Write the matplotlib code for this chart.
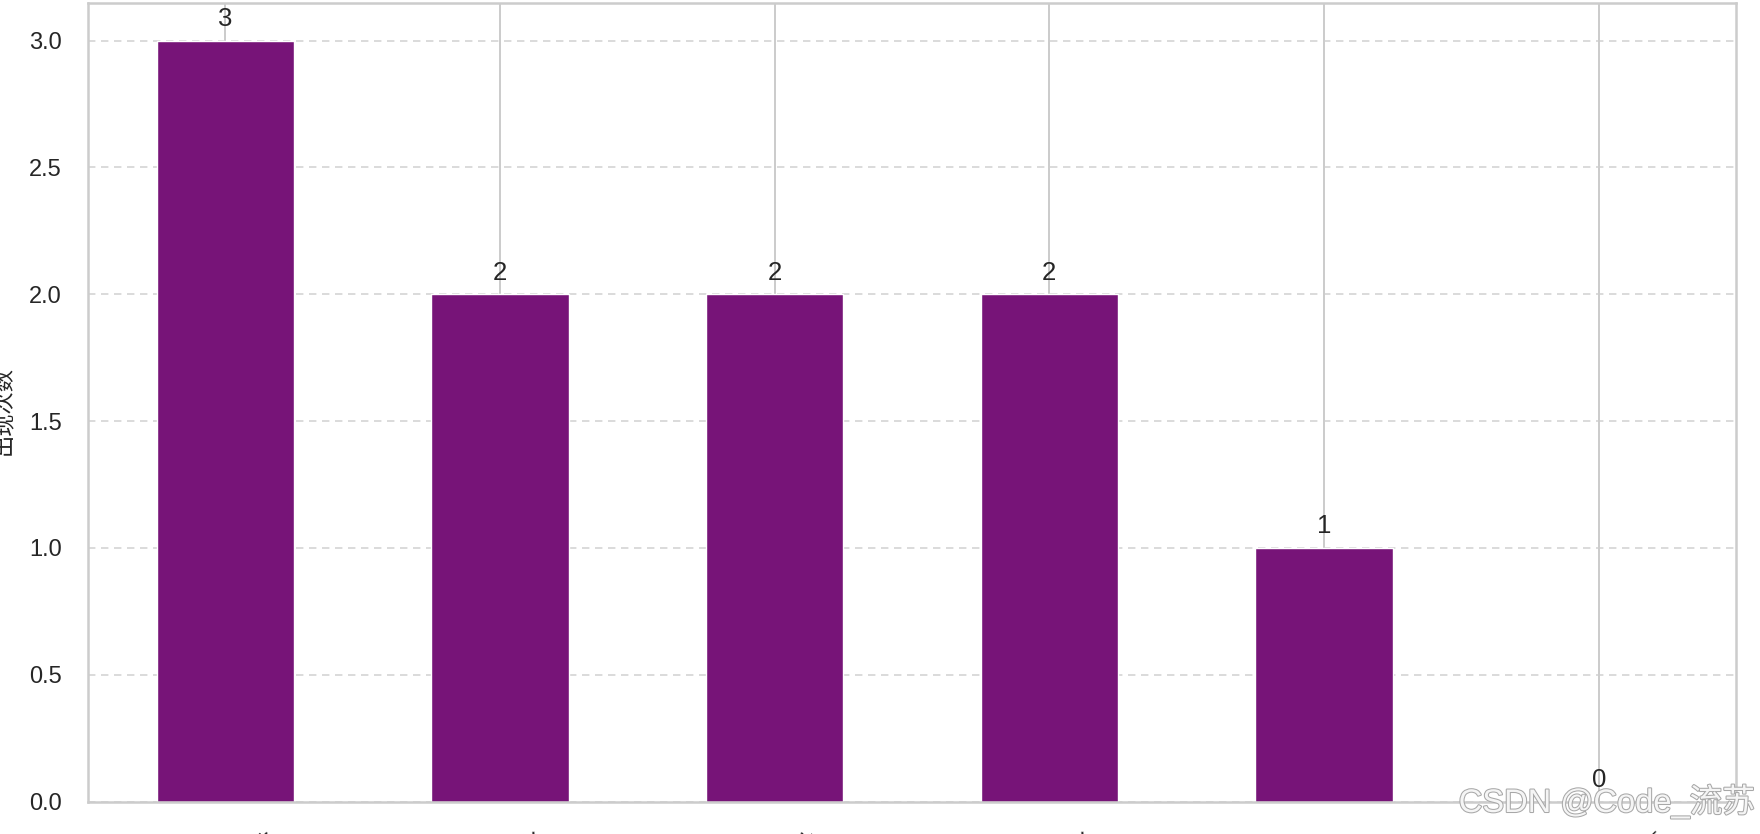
import matplotlib
matplotlib.use('Agg')
import matplotlib.pyplot as plt
import matplotlib.patheffects as pe
import pandas as pd
import seaborn as sns

# 数据
categories = ['机器学习算法', '数据可视化', '数据库设计', '接口自动化', '云计算平台', '大数据分布式计算']
counts = [3, 2, 2, 2, 1, 0]
y_label = '出现次数'
watermark = 'CSDN @Code_流苏'

bar_color = '#771478'
grid_color = '#cccccc'
text_color = '#262626'

# 样式
sns.set_theme(style='whitegrid')
plt.rcParams['font.family'] = ['Liberation Sans', 'Noto Sans CJK SC']
plt.rcParams['axes.unicode_minus'] = False

fig = plt.figure(figsize=(17.6, 8.34), dpi=100)
ax = fig.add_axes([0.05, 0.0388, 0.9364, 0.9582])

s = pd.Series(counts, index=categories)
s.plot(kind='bar', ax=ax, color=bar_color, rot=45, width=0.5)

# 网格：纵向实线，横向虚线
ax.set_axisbelow(True)
ax.xaxis.grid(True, color=grid_color, linewidth=1.44, linestyle='-')
ax.yaxis.grid(True, color=grid_color, linewidth=1.44, linestyle=(0, (3.7, 2.8)), alpha=0.7)

ax.tick_params(axis='both', length=0, pad=19, labelsize=17, colors=text_color)
for sp in ax.spines.values():
    sp.set_color(grid_color)
    sp.set_linewidth(1.8)

# 数值标注
for i, v in enumerate(counts):
    ax.annotate(str(v), (i, v), xytext=(0, 7), textcoords='offset points',
                ha='center', va='bottom', fontsize=18.5, color=text_color)

ax.set_xlabel('')
ax.set_ylabel(y_label, fontsize=16, color=text_color)
ax.yaxis.set_label_coords(-0.0443, 0.49)

# 水印
fig.text(1755 / 1760, 1 - 812 / 834, watermark, ha='right', va='baseline',
         fontsize=23.5, color='#f5f5f5',
         path_effects=[pe.withStroke(linewidth=1.5, foreground='#a8a8a8')])

fig.savefig('out.png', dpi=100)
plt.close(fig)
